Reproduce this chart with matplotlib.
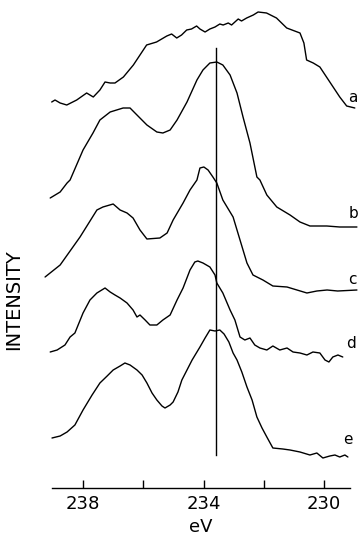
import matplotlib
matplotlib.use("Agg")
import matplotlib.pyplot as plt
from matplotlib.ticker import FixedLocator

# spectra: binding energy (eV) and stacked intensity (arb.)
ev_a = [239.04, 238.93, 238.76, 238.54, 238.21, 237.88, 237.66, 237.44, 237.27, 237.10,
        236.94, 236.66, 236.33, 235.89, 235.56, 235.22, 235.06, 234.89, 234.73, 234.56,
        234.40, 234.23, 234.12, 233.95, 233.79, 233.62, 233.46, 233.35, 233.18, 233.07,
        232.96, 232.85, 232.74, 232.57, 232.35, 232.19, 231.91, 231.58, 231.24, 230.80,
        230.67, 230.58, 230.36, 230.14, 229.92, 229.70, 229.48, 229.25, 228.98]
int_a = [386, 388, 385, 383, 388, 395, 391, 398, 406, 405,
         405, 411, 423, 443, 446, 452, 454, 450, 453, 458,
         459, 462, 459, 456, 459, 461, 464, 463, 465, 463,
         466, 469, 467, 470, 473, 476, 475, 470, 460, 455,
         445, 428, 425, 421, 411, 401, 391, 382, 380]

ev_b = [239.09, 238.76, 238.53, 238.43, 238.00, 237.67, 237.44, 237.10, 236.67, 236.44,
        236.21, 235.88, 235.55, 235.35, 235.11, 234.88, 234.55, 234.22, 234.02, 233.79,
        233.56, 233.36, 233.12, 232.89, 232.69, 232.46, 232.23, 232.13, 231.90, 231.57,
        231.13, 230.80, 230.47, 229.91, 229.48, 228.91]
int_b = [290, 296, 305, 308, 338, 355, 368, 376, 380, 380,
         373, 363, 356, 355, 358, 368, 386, 408, 418, 425,
         426, 423, 413, 395, 371, 345, 311, 308, 293, 281,
         273, 266, 262, 262, 261, 261]

ev_c = [239.26, 238.76, 238.10, 237.54, 237.34, 237.00, 236.77, 236.54, 236.34, 236.11,
        235.88, 235.45, 235.21, 235.01, 234.68, 234.45, 234.22, 234.12, 233.99, 233.85,
        233.69, 233.56, 233.36, 233.02, 232.79, 232.56, 232.36, 232.03, 231.70, 231.23,
        230.90, 230.57, 230.24, 229.90, 229.55, 228.91]
int_c = [211, 223, 251, 278, 281, 284, 278, 275, 270, 258,
         249, 250, 255, 268, 285, 298, 308, 320, 321, 318,
         311, 305, 288, 271, 248, 225, 213, 208, 202, 201,
         198, 195, 197, 198, 197, 198]

ev_d = [239.09, 238.86, 238.60, 238.43, 238.27, 238.00, 237.77, 237.54, 237.27, 237.10,
        236.94, 236.77, 236.54, 236.34, 236.21, 236.11, 235.94, 235.78, 235.55, 235.35,
        235.11, 234.88, 234.68, 234.45, 234.29, 234.19, 234.02, 233.79, 233.62, 233.56,
        233.36, 233.12, 232.96, 232.79, 232.63, 232.46, 232.30, 232.13, 231.90, 231.70,
        231.47, 231.23, 231.03, 230.80, 230.57, 230.37, 230.14, 229.97, 229.84, 229.71,
        229.54, 229.38]
int_d = [136, 138, 143, 151, 155, 175, 188, 195, 200, 196,
         193, 190, 185, 178, 171, 173, 168, 163, 163, 168,
         173, 188, 200, 218, 226, 227, 225, 221, 213, 205,
         195, 178, 168, 151, 148, 150, 143, 140, 138, 142,
         138, 140, 136, 135, 133, 136, 135, 128, 126, 131,
         133, 131]

ev_e = [239.03, 238.76, 238.53, 238.27, 238.00, 237.70, 237.44, 237.20, 237.00, 236.77,
        236.61, 236.44, 236.21, 236.04, 235.88, 235.71, 235.55, 235.38, 235.28, 235.11,
        235.01, 234.85, 234.72, 234.55, 234.38, 234.12, 233.95, 233.79, 233.62, 233.46,
        233.32, 233.16, 233.02, 232.89, 232.73, 232.56, 232.39, 232.23, 232.06, 231.90,
        231.70, 231.37, 231.13, 230.80, 230.47, 230.24, 230.04, 229.81, 229.64, 229.48,
        229.31, 229.21]
int_e = [50, 52, 56, 63, 78, 93, 105, 112, 118, 122,
         125, 123, 118, 113, 105, 95, 88, 82, 80, 83,
         86, 96, 108, 118, 128, 141, 150, 158, 157, 158,
         154, 146, 135, 128, 116, 101, 88, 71, 60, 51,
         40, 39, 38, 36, 33, 35, 30, 32, 33, 31,
         33, 31]

curves = [("a", ev_a, int_a), ("b", ev_b, int_b), ("c", ev_c, int_c),
          ("d", ev_d, int_d), ("e", ev_e, int_e)]
label_ev = [229.20, 229.20, 229.20, 229.26, 229.38]
label_int = [391, 275, 208, 145, 48]

marker_ev = 233.59
marker_span = (33, 440)

major_ticks = [238, 234, 230]
minor_ticks = [236, 232]

fig = plt.figure(figsize=(3.58, 5.42), dpi=100)
ax = fig.add_axes([52 / 358, 54 / 542, 298 / 358, 488 / 542])

for (name, ev, inten), lx, ly in zip(curves, label_ev, label_int):
    ax.plot(ev, inten, color="black", lw=1.0, clip_on=False,
            solid_joinstyle="round", solid_capstyle="round")
    ax.text(lx, ly, name, fontsize=11, ha="left", va="center", clip_on=False)

ax.plot([marker_ev, marker_ev], marker_span, color="black", lw=1.0)

ax.set_xlim(239.03, 229.14)
ax.set_ylim(0, 488)

for s in ["top", "right", "left"]:
    ax.spines[s].set_visible(False)
ax.spines["bottom"].set_linewidth(1.0)
ax.set_yticks([])

ax.xaxis.set_major_locator(FixedLocator(major_ticks))
ax.xaxis.set_minor_locator(FixedLocator(minor_ticks))
ax.tick_params(axis="x", which="both", direction="in", length=6, width=1.0, pad=5,
               labelsize=13)
ax.set_xlabel("eV", fontsize=13, labelpad=4)

fig.text(14 / 358, 1 - 300 / 542, "INTENSITY", rotation=90, fontsize=14,
         ha="center", va="center")

fig.savefig("out.png", dpi=100)
